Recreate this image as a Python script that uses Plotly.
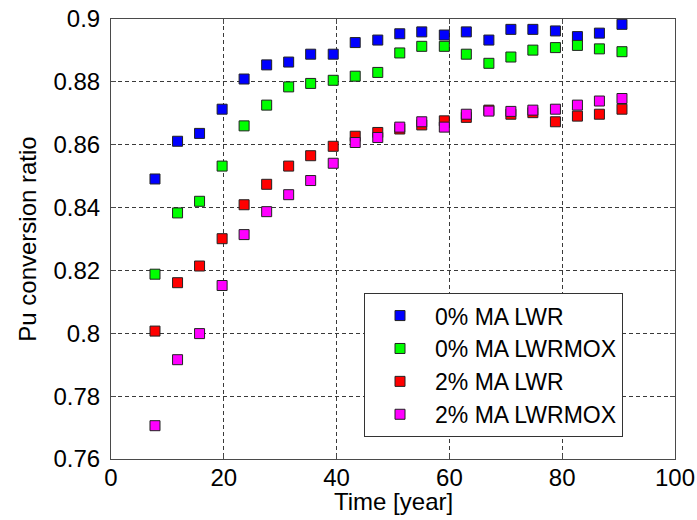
import plotly.graph_objects as go

time_years = [7.8, 11.8, 15.7, 19.7, 23.6, 27.6, 31.5, 35.4, 39.4, 43.3, 47.3,
              51.2, 55.1, 59.1, 63.0, 67.0, 70.9, 74.8, 78.8, 82.7, 86.6, 90.6]

ma0_lwr = [0.8491, 0.8611, 0.8636, 0.8713, 0.8809, 0.8854, 0.8863, 0.8888, 0.8888, 0.8925, 0.8933,
           0.8953, 0.8959, 0.8949, 0.8959, 0.8933, 0.8967, 0.8967, 0.8962, 0.8944, 0.8955, 0.8983]
ma0_lwrmox = [0.8188, 0.8383, 0.8420, 0.8532, 0.8660, 0.8726, 0.8784, 0.8795, 0.8805, 0.8818, 0.8830,
              0.8892, 0.8913, 0.8913, 0.8888, 0.8859, 0.8879, 0.8901, 0.8909, 0.8916, 0.8905, 0.8896]
ma2_lwr = [0.8007, 0.8161, 0.8214, 0.8301, 0.8409, 0.8474, 0.8532, 0.8565, 0.8595, 0.8627, 0.8639,
           0.8650, 0.8663, 0.8676, 0.8687, 0.8710, 0.8697, 0.8702, 0.8673, 0.8691, 0.8697, 0.8713]
ma2_lwrmox = [0.7706, 0.7916, 0.7999, 0.8152, 0.8314, 0.8387, 0.8441, 0.8486, 0.8541, 0.8607, 0.8623,
              0.8656, 0.8673, 0.8656, 0.8697, 0.8707, 0.8706, 0.8710, 0.8713, 0.8726, 0.8739, 0.8747]

series_names = ["0% MA LWR", "0% MA LWRMOX", "2% MA LWR", "2% MA LWRMOX"]
series_values = [ma0_lwr, ma0_lwrmox, ma2_lwr, ma2_lwrmox]
series_colors = ["#0000FF", "#00FF00", "#FF0000", "#FF00FF"]

x_ticks = [0, 20, 40, 60, 80, 100]
y_ticks = [0.76, 0.78, 0.8, 0.82, 0.84, 0.86, 0.88, 0.9]
y_tick_labels = ["0.76", "0.78", "0.8", "0.82", "0.84", "0.86", "0.88", "0.9"]
x_title = "Time [year]"
y_title = "Pu conversion ratio"

FONT = "Liberation Sans, Arial, sans-serif"
FS = 24

fig = go.Figure()
for name, vals, col in zip(series_names, series_values, series_colors):
    fig.add_trace(go.Scatter(
        x=time_years, y=vals, name=name, mode="markers",
        marker=dict(symbol="square", size=10, color=col,
                    line=dict(color="#222222", width=1)),
    ))

axis_common = dict(
    showline=True, linecolor="#4a4a4a", linewidth=1, mirror="ticks",
    ticks="inside", ticklen=5, tickcolor="#4a4a4a", tickwidth=1,
    showgrid=True, gridcolor="#3a3a3a", gridwidth=1, griddash="4px,3px",
    zeroline=False, automargin=False,
    tickfont=dict(family=FONT, size=FS, color="black"),
)

fig.update_xaxes(range=[0, 100], tickvals=x_ticks, ticklabelstandoff=-3, **axis_common)
fig.update_yaxes(range=[0.76, 0.9], tickvals=y_ticks, ticktext=y_tick_labels,
                 title=dict(text=y_title, font=dict(family=FONT, size=FS, color="black"), standoff=10),
                 ticklabelstandoff=5,
                 **axis_common)

fig.add_annotation(text=x_title, xref="paper", yref="paper", x=0.5, y=-0.0977,
                   xanchor="center", yanchor="middle", showarrow=False,
                   font=dict(family=FONT, size=FS, color="black"))

fig.update_layout(
    width=697, height=520,
    margin=dict(l=111, r=22, t=19, b=61),
    paper_bgcolor="white", plot_bgcolor="white",
    font=dict(family=FONT, size=FS, color="black"),
    showlegend=True,
    legend=dict(x=0.4486, y=0.377, xanchor="left", yanchor="top",
                bgcolor="white", bordercolor="#333333", borderwidth=1,
                font=dict(family=FONT, size=23, color="black"),
                itemwidth=60, tracegroupgap=0),
)

fig.write_html("out.html", config={"displayModeBar": False},
               post_script="document.body.style.margin='0';document.body.style.overflow='hidden';")
